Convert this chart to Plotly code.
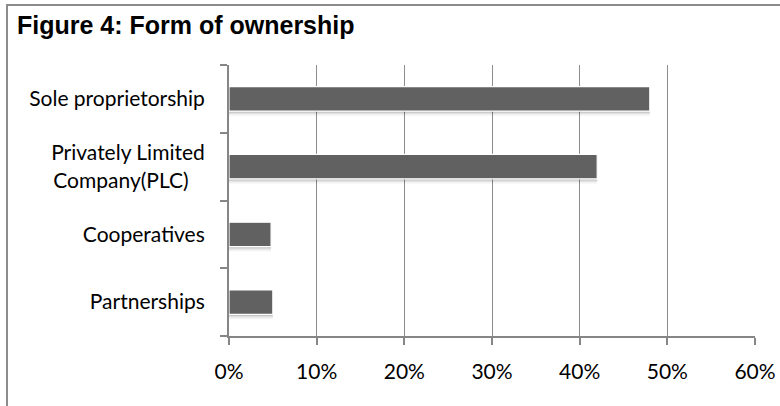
import plotly.graph_objects as go

# Ownership categories, listed bottom to top as they appear on the axis
categories = ["Partnerships", "Cooperatives",
              "Privately Limited<br>Company(PLC)\u00a0\u00a0\u00a0",
              "Sole proprietorship"]
shares = [5.0, 4.8, 42.0, 48.0]          # percent of firms
x_ticks = [0, 10, 20, 30, 40, 50, 60]
x_tick_labels = ["0%", "10%", "20%", "30%", "40%", "50%", "60%"]

BAR_COLOR = "#616161"
GRID_COLOR = "#8c8c8c"
AXIS_COLOR = "#868686"
LABEL_FONT = dict(family="Lato, Calibri, sans-serif", size=21, color="#000000")

W, H = 780, 406
L, R, T, B = 229, 25, 65, 70
PW, PH = W - L - R, H - T - B


def px_x(px):
    return (px - L) / PW


def px_y(py):
    return (H - B - py) / PH


BAR_W = 0.36

fig = go.Figure()

# soft drop shadow under each bar
for dy, alpha in [(0.07, 0.05), (0.045, 0.08), (0.025, 0.11)]:
    fig.add_trace(go.Bar(
        x=shares, y=categories, orientation="h",
        width=BAR_W, offset=-BAR_W / 2 - dy,
        marker=dict(color=f"rgba(0,0,0,{alpha})", line=dict(width=0)),
        hoverinfo="skip", showlegend=False,
    ))

fig.add_trace(go.Bar(
    x=shares, y=categories, orientation="h",
    width=BAR_W,
    marker=dict(color=BAR_COLOR, line=dict(color="#ffffff", width=1.2)),
    showlegend=False,
))

fig.update_layout(
    width=W, height=H,
    margin=dict(l=L, r=R, t=T, b=B, pad=0, autoexpand=False),
    paper_bgcolor="#ffffff", plot_bgcolor="#ffffff",
    barmode="overlay",
    title=dict(
        text="<b>Figure 4: Form of ownership</b>",
        x=17 / W, xref="container", xanchor="left",
        y=1 - 25 / H, yref="container", yanchor="middle",
        font=dict(family="Liberation Sans, Arial, sans-serif", size=25,
                  color="#000000"),
    ),
    xaxis=dict(
        range=[0, 60], tickvals=x_ticks, ticktext=x_tick_labels,
        showgrid=True, gridcolor=GRID_COLOR, gridwidth=1,
        zeroline=False, automargin=False,
        showline=True, linecolor=AXIS_COLOR, linewidth=2,
        ticks="outside", ticklen=7, tickwidth=2, tickcolor=AXIS_COLOR,
        ticklabelstandoff=9,
        tickfont=LABEL_FONT, fixedrange=True,
    ),
    yaxis=dict(
        type="category", categoryorder="array", categoryarray=categories,
        range=[-0.5, len(categories) - 0.5],
        showgrid=False, zeroline=False, automargin=False,
        showline=True, linecolor=AXIS_COLOR, linewidth=2,
        ticks="outside", tickson="boundaries", ticklen=7, tickwidth=2,
        tickcolor=AXIS_COLOR, ticklabelstandoff=18,
        tickfont=LABEL_FONT, fixedrange=True,
    ),
    shapes=[
        # frame: top and left edges
        dict(type="line", xref="paper", yref="paper",
             x0=px_x(7), x1=px_x(W + 2), y0=px_y(5), y1=px_y(5),
             line=dict(color="#8c8c8c", width=2)),
        dict(type="line", xref="paper", yref="paper",
             x0=px_x(7), x1=px_x(7), y0=px_y(4), y1=px_y(H + 2),
             line=dict(color="#8c8c8c", width=2)),
    ],
)

fig.write_html("out.html")
